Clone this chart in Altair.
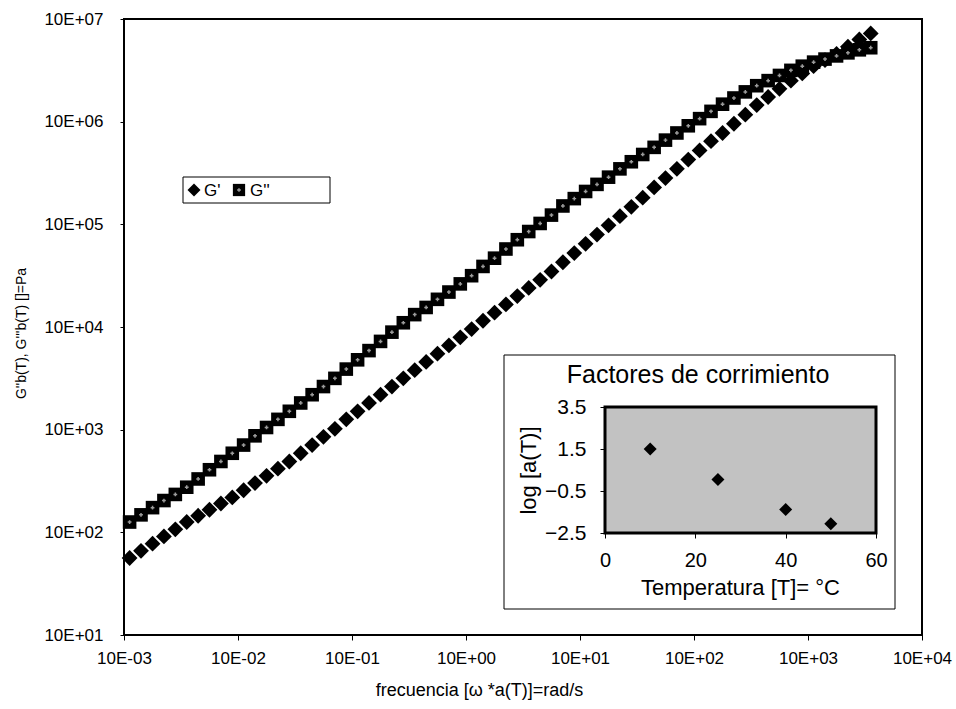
import altair as alt
import pandas as pd

# ---------------- data ----------------
freq = [1.12e-3, 1.41e-3, 1.78e-3, 2.24e-3, 2.82e-3, 3.55e-3, 4.47e-3, 5.62e-3, 7.08e-3, 8.91e-3,
        1.12e-2, 1.41e-2, 1.78e-2, 2.24e-2, 2.82e-2, 3.55e-2, 4.47e-2, 5.62e-2, 7.08e-2, 8.91e-2,
        0.112, 0.141, 0.178, 0.224, 0.282, 0.355, 0.447, 0.562, 0.708, 0.891,
        1.12, 1.41, 1.78, 2.24, 2.82, 3.55, 4.47, 5.62, 7.08, 8.91,
        11.2, 14.1, 17.8, 22.4, 28.2, 35.5, 44.7, 56.2, 70.8, 89.1,
        112, 141, 178, 224, 282, 355, 447, 562, 708, 891,
        1120, 1410, 1780, 2240, 2820, 3550]

g_storage = [56.2, 66.1, 77.6, 91.2, 107, 126, 145, 166, 191, 219,
             257, 302, 355, 417, 490, 589, 708, 851, 1020, 1260,
             1510, 1820, 2190, 2630, 3160, 3800, 4570, 5500, 6610, 7940,
             9550, 11500, 13800, 16600, 20000, 24000, 28800, 34700, 42700, 52500,
             64600, 79400, 97700, 120000, 148000, 182000, 229000, 282000, 347000, 427000,
             525000, 646000, 776000, 955000, 1.17e6, 1.45e6, 1.74e6, 2.09e6, 2.51e6, 2.95e6,
             3.47e6, 3.98e6, 4.57e6, 5.37e6, 6.31e6, 7.24e6]

g_loss = [126, 148, 174, 204, 234, 275, 331, 407, 490, 589,
          708, 871, 1050, 1260, 1510, 1820, 2190, 2630, 3160, 3890,
          4790, 5890, 7240, 8910, 11000, 13200, 15500, 18600, 21900, 26300,
          31600, 38900, 46800, 57500, 70800, 85100, 102000, 123000, 151000, 178000,
          209000, 245000, 288000, 347000, 407000, 479000, 562000, 661000, 776000, 912000,
          1.07e6, 1.26e6, 1.48e6, 1.70e6, 1.95e6, 2.24e6, 2.51e6, 2.82e6, 3.16e6, 3.47e6,
          3.80e6, 4.07e6, 4.37e6, 4.68e6, 5.01e6, 5.25e6]

x_ticks = [1e-3, 1e-2, 1e-1, 1e0, 1e1, 1e2, 1e3, 1e4]
y_ticks = [1e1, 1e2, 1e3, 1e4, 1e5, 1e6, 1e7]

temp_c = [10, 25, 40, 50]
log_shift = [1.5, 0.05, -1.38, -2.06]
inset_x_domain = [0, 60]
inset_y_domain = [-2.5, 3.5]
inset_x_ticks = [0, 20, 40, 60]
inset_y_ticks = [-2.5, -0.5, 1.5, 3.5]

FONT = "Liberation Sans"

df = pd.DataFrame({"freq": freq, "g_storage": g_storage, "g_loss": g_loss})
inset_df = pd.DataFrame({"temp": temp_c, "loga": log_shift})
one = pd.DataFrame({"k": [0]})

exp_label = ("'10E' + (datum.value < 1 ? '-' : '+') + '0' + "
             "abs(round(log(datum.value) / LN10))")

# ---------------- main chart ----------------
xs = alt.Scale(type="log", domain=[x_ticks[0], x_ticks[-1]], nice=False)
ys = alt.Scale(type="log", domain=[y_ticks[0], y_ticks[-1]], nice=False)

x_axis = alt.Axis(values=x_ticks, labelExpr=exp_label, grid=False, domain=False,
                  tickSize=5, tickColor="black", labelFont=FONT, labelFontSize=17,
                  labelColor="black", labelPadding=10, labelFlush=False, labelOverlap=False,
                  title="frecuencia [ω *a(T)]=rad/s", titleFont=FONT, titleFontSize=18,
                  titleFontWeight="normal", titleColor="black", titleX=355, titleY=55,
                  titleBaseline="middle")
y_axis = alt.Axis(values=y_ticks, labelExpr=exp_label, grid=False, domain=False,
                  tickSize=4, tickColor="black", labelFont=FONT, labelFontSize=17,
                  labelColor="black", labelPadding=17, labelOverlap=False,
                  title="G''b(T), G'''b(T) []=Pa", titleFont=FONT, titleFontSize=14,
                  titleFontWeight="normal", titleColor="black", titleX=-103, titleY=314,
                  titleBaseline="middle")

X = alt.X("freq:Q", scale=xs, axis=x_axis)

gp = alt.Chart(df).mark_point(shape="diamond", filled=True, color="black",
                              size=250, opacity=1, strokeWidth=0).encode(
    x=X, y=alt.Y("g_storage:Q", scale=ys, axis=y_axis))
gpp = alt.Chart(df).mark_point(shape="square", filled=True, color="black",
                               size=185, opacity=1, strokeWidth=0).encode(
    x=X, y=alt.Y("g_loss:Q", scale=ys, axis=y_axis))
gpp_dot = alt.Chart(df).mark_point(shape="cross", filled=True, color="#9a9a9a",
                                   size=14, opacity=1, strokeWidth=0).encode(
    x=X, y=alt.Y("g_loss:Q", scale=ys, axis=y_axis))

# legend
leg_box = alt.Chart(one).mark_rect(fill="white", stroke="black", strokeWidth=1).encode(
    x=alt.value(59), x2=alt.value(206), y=alt.value(158), y2=alt.value(184))
leg_d = alt.Chart(one).mark_point(shape="diamond", filled=True, color="black",
                                  size=170, opacity=1, strokeWidth=0).encode(
    x=alt.value(70), y=alt.value(171))
leg_t1 = alt.Chart(one).mark_text(text="G'", font=FONT, fontSize=17, align="left",
                                  baseline="middle", color="black").encode(
    x=alt.value(80), y=alt.value(172))
leg_s = alt.Chart(one).mark_point(shape="square", filled=True, color="black",
                                  size=150, opacity=1, strokeWidth=0).encode(
    x=alt.value(115), y=alt.value(171))
leg_s2 = alt.Chart(one).mark_point(shape="cross", filled=True, color="#9a9a9a",
                                   size=14, opacity=1, strokeWidth=0).encode(
    x=alt.value(115), y=alt.value(171))
leg_t2 = alt.Chart(one).mark_text(text="G''", font=FONT, fontSize=17, align="left",
                                  baseline="middle", color="black").encode(
    x=alt.value(126), y=alt.value(172))

main = alt.layer(gp, gpp, gpp_dot, leg_box, leg_d, leg_t1, leg_s, leg_s2, leg_t2)

# ---------------- inset ----------------
xsi = alt.Scale(domain=inset_x_domain, range=[481, 752], nice=False, zero=False)
ysi = alt.Scale(domain=inset_y_domain, range=[514, 388], nice=False, zero=False)

xi_axis = alt.Axis(orient="bottom", offset=-102, values=inset_x_ticks, grid=False,
                   domain=False, tickSize=5, tickColor="black", labelFont=FONT,
                   labelFontSize=20, labelColor="black", labelPadding=12, labelFlush=False,
                   title="Temperatura [T]= °C", titleFont=FONT, titleFontSize=22,
                   titleFontWeight="normal", titleColor="black", titleX=616, titleY=54,
                   titleBaseline="middle", zindex=2)
yi_axis = alt.Axis(orient="left", offset=-481, values=inset_y_ticks, format=".1f",
                   grid=False, domain=False, tickSize=5, tickColor="black",
                   labelFont=FONT, labelFontSize=21, labelColor="black", labelPadding=14,
                   title="log [a(T)]", titleFont=FONT, titleFontSize=22,
                   titleFontWeight="normal", titleColor="black", titleX=-77, titleY=451,
                   titleBaseline="middle", zindex=2)

in_box = alt.Chart(one).mark_rect(fill="white", stroke="black", strokeWidth=1).encode(
    x=alt.value(380), x2=alt.value(771), y=alt.value(336), y2=alt.value(590))
in_bg = alt.Chart(one).mark_rect(fill="#c2c2c2", stroke="black", strokeWidth=3).encode(
    x=alt.X(datum=inset_x_domain[0], type="quantitative", scale=xsi, axis=xi_axis),
    x2=alt.X2(datum=inset_x_domain[1]),
    y=alt.Y(datum=inset_y_domain[0], type="quantitative", scale=ysi, axis=yi_axis),
    y2=alt.Y2(datum=inset_y_domain[1]))
in_pts = alt.Chart(inset_df).mark_point(shape="diamond", filled=True, color="black",
                                        size=169, opacity=1, strokeWidth=0).encode(
    x=alt.X("temp:Q", scale=xsi, axis=xi_axis),
    y=alt.Y("loga:Q", scale=ysi, axis=yi_axis))
in_title = alt.Chart(one).mark_text(text="Factores de corrimiento", font=FONT,
                                    fontSize=25, align="center", baseline="middle",
                                    color="black").encode(
    x=alt.value(574), y=alt.value(356))

inset = alt.layer(in_box, in_bg, in_pts, in_title)

chart = alt.layer(main, inset).resolve_scale(x="independent", y="independent").properties(
    width=798, height=616,
    autosize=alt.AutoSizeParams(type="none"),
    padding={"left": 124, "top": 19, "right": 34, "bottom": 74},
    background="white",
).configure_view(stroke="black", strokeWidth=2)

chart.save("out.html", embed_options={"renderer": "svg", "actions": False})
